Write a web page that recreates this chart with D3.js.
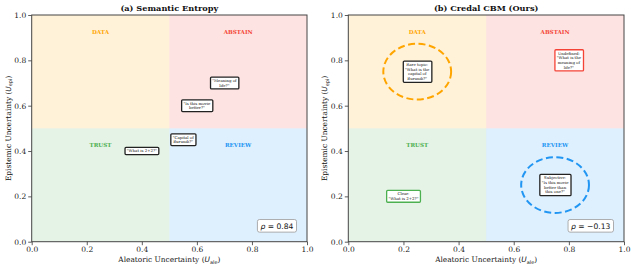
<!DOCTYPE html>
<html>
<head>
<meta charset="utf-8">
<script src="https://cdn.jsdelivr.net/npm/d3@7"></script>
<style>
  body { margin: 0; background: #fff; }
  svg text { font-family: "DejaVu Serif", serif; }
</style>
</head>
<body>
<div id="viz"></div>
<script>
var w = 635;
var h = 269;

// data
var titles = ["(a) Semantic Entropy", "(b) Credal CBM (Ours)"];
var ticks = [0, 0.2, 0.4, 0.6, 0.8, 1.0];
var quadrants = ["DATA", "ABSTAIN", "TRUST", "REVIEW"];
var quadX = [0.25, 0.75, 0.25, 0.75];
var quadY = [0.925, 0.925, 0.425, 0.425];
var rhos = ["0.84", "\u22120.13"];

// left panel question points
var seX = [0.70, 0.60, 0.55, 0.40];
var seY = [0.70, 0.60, 0.45, 0.40];
var seText = [["\"Meaning of", "life?\""], ["\"Is this movie", "better?\""], ["\"Capital of", "Burundi?\""], ["\"What is 2+2?\""]];
var seBorder = ["k", "k", "k", "k"];

// right panel question points
var cbX = [0.25, 0.80, 0.75, 0.20];
var cbY = [0.75, 0.80, 0.25, 0.20];
var cbText = [["Rare topic:", "\"What is the", "capital of", "Burundi?\""],
              ["Undefined:", "\"What is the", "meaning of", "life?\""],
              ["Subjective:", "\"Is this movie", "better than", "this one?\""],
              ["Clear:", "\"What is 2+2?\""]];
var cbBorder = ["k", "r", "k", "g"];

// dashed circles in right panel
var ringX = [0.25, 0.75];
var ringY = [0.75, 0.25];
var ringR = [0.123, 0.123];
var ringColor = ["o", "b"];

var colors = { o: "#FFA500", r: "#F44336", g: "#4CAF50", b: "#2196F3", k: "#222" };
var quadColors = ["o", "r", "g", "b"];

var svg = d3.select("#viz").append("svg")
    .attr("width", w)
    .attr("height", h);

var panelsX = [[31.7, 307], [348.3, 624]];
var plotTop = 15, plotBottom = 241.7;

function drawPanel(p, xs, ys, texts, borders, rings) {
    var x = d3.scaleLinear().domain([0, 1]).range(panelsX[p]);
    var y = d3.scaleLinear().domain([0, 1]).range([plotBottom, plotTop]);
    var g = svg.append("g");

    // quadrants
    var qd = [[0, 0.5, 0.5, 1], [0.5, 1, 0.5, 1], [0, 0.5, 0, 0.5], [0.5, 1, 0, 0.5]];
    g.selectAll("rect.q").data(qd).enter().append("rect")
        .attr("x", function(d) { return x(d[0]); })
        .attr("y", function(d) { return y(d[3]); })
        .attr("width", function(d) { return x(d[1]) - x(d[0]); })
        .attr("height", function(d) { return y(d[2]) - y(d[3]); })
        .attr("fill", function(d, i) { return colors[quadColors[i]]; })
        .attr("fill-opacity", 0.15);

    g.selectAll("text.q").data(quadrants).enter().append("text")
        .attr("x", function(d, i) { return x(quadX[i]); })
        .attr("y", function(d, i) { return y(quadY[i]); })
        .attr("text-anchor", "middle")
        .attr("dominant-baseline", "central")
        .attr("font-size", 5.6)
        .attr("font-weight", "bold")
        .attr("fill", function(d, i) { return colors[quadColors[i]]; })
        .text(function(d) { return d; });

    // rings
    if (rings) {
        g.selectAll("ellipse").data(ringX).enter().append("ellipse")
            .attr("cx", function(d) { return x(d); })
            .attr("cy", function(d, i) { return y(ringY[i]); })
            .attr("rx", function(d, i) { return x(ringR[i]) - x(0); })
            .attr("ry", function(d, i) { return y(0) - y(ringR[i]); })
            .attr("fill", "none")
            .attr("stroke", function(d, i) { return colors[ringColor[i]]; })
            .attr("stroke-width", 2)
            .attr("stroke-dasharray", "7,3.5");
    }

    // labelled boxes
    var fs = 3.9, lh = 4.7;
    xs.forEach(function(d, i) {
        var lines = texts[i];
        var bg = g.append("g");
        var t = bg.append("text")
            .attr("text-anchor", "middle")
            .attr("font-size", fs)
            .attr("fill", "#111");
        lines.forEach(function(l, j) {
            t.append("tspan")
                .attr("x", x(d))
                .attr("y", y(ys[i]) + (j - (lines.length - 1) / 2) * lh)
                .attr("dy", "0.35em")
                .text(l);
        });
        var bb = t.node().getBBox();
        bg.insert("rect", "text")
            .attr("x", bb.x - 1.8)
            .attr("y", y(ys[i]) - lines.length * lh / 2 - 1.2)
            .attr("width", bb.width + 3.6)
            .attr("height", lines.length * lh + 2.4)
            .attr("rx", 1)
            .attr("fill", "white")
            .attr("stroke", colors[borders[i]])
            .attr("stroke-width", 1.3);
    });

    // rho box
    var rg = g.append("g");
    var rt = rg.append("text")
        .attr("x", x(0.965) - 4)
        .attr("y", y(0.07))
        .attr("text-anchor", "end")
        .attr("dominant-baseline", "central")
        .attr("font-size", 7.6)
        .style("font-family", "DejaVu Sans")
        .attr("fill", "#111");
    rt.append("tspan").style("font-style", "italic").text("\u03c1");
    rt.append("tspan").text(" = " + rhos[p]);
    var rb = rt.node().getBBox();
    rg.insert("rect", "text")
        .attr("x", rb.x - 3)
        .attr("y", y(0.07) - 6.3)
        .attr("width", rb.width + 6)
        .attr("height", 12.6)
        .attr("rx", 2)
        .attr("fill", "white")
        .attr("stroke", "#999")
        .attr("stroke-width", 0.8);

    // axes
    var xa = g.append("g").attr("transform", "translate(0," + plotBottom + ")")
        .call(d3.axisBottom(x).tickValues(ticks).tickFormat(d3.format(".1f"))
            .tickSizeOuter(0).tickSize(3.5).tickPadding(1.5));
    var ya = g.append("g").attr("transform", "translate(" + panelsX[p][0] + ",0)")
        .call(d3.axisLeft(y).tickValues(ticks).tickFormat(d3.format(".1f"))
            .tickSizeOuter(0).tickSize(3.5).tickPadding(2));
    [xa, ya].forEach(function(a) {
        a.select(".domain").remove();
        a.selectAll("line").attr("stroke", "#333").attr("stroke-width", 0.8);
        a.selectAll("text").attr("font-size", 7.5).attr("fill", "#222")
            .style("font-family", "DejaVu Serif");
    });

    g.append("rect")
        .attr("x", x(0)).attr("y", y(1))
        .attr("width", x(1) - x(0)).attr("height", y(0) - y(1))
        .attr("fill", "none").attr("stroke", "#444").attr("stroke-width", 1);

    // title
    g.append("text")
        .attr("x", (x(0) + x(1)) / 2)
        .attr("y", 10.5)
        .attr("text-anchor", "middle")
        .attr("font-size", 8.2)
        .attr("font-weight", "bold")
        .attr("fill", "#111")
        .text(titles[p]);

    // x label
    var xl = g.append("text")
        .attr("x", (x(0) + x(1)) / 2)
        .attr("y", 262)
        .attr("text-anchor", "middle")
        .attr("font-size", 7.4)
        .attr("fill", "#111");
    xl.append("tspan").text("Aleatoric Uncertainty (");
    xl.append("tspan").style("font-family", "DejaVu Sans").style("font-style", "italic").text("U");
    xl.append("tspan").style("font-family", "DejaVu Sans").attr("font-size", 5).attr("dy", 1.5).text("ale");
    xl.append("tspan").attr("dy", -1.5).text(")");

    // y label
    var yl = g.append("text")
        .attr("transform", "translate(" + (panelsX[p][0] - 21) + "," + ((plotTop + plotBottom) / 2) + ") rotate(-90)")
        .attr("text-anchor", "middle")
        .attr("font-size", 7.4)
        .attr("fill", "#111");
    yl.append("tspan").text("Epistemic Uncertainty (");
    yl.append("tspan").style("font-family", "DejaVu Sans").style("font-style", "italic").text("U");
    yl.append("tspan").style("font-family", "DejaVu Sans").attr("font-size", 5).attr("dy", 1.5).text("epi");
    yl.append("tspan").attr("dy", -1.5).text(")");
}

drawPanel(0, seX, seY, seText, seBorder, false);
drawPanel(1, cbX, cbY, cbText, cbBorder, true);
</script>
</body>
</html>
